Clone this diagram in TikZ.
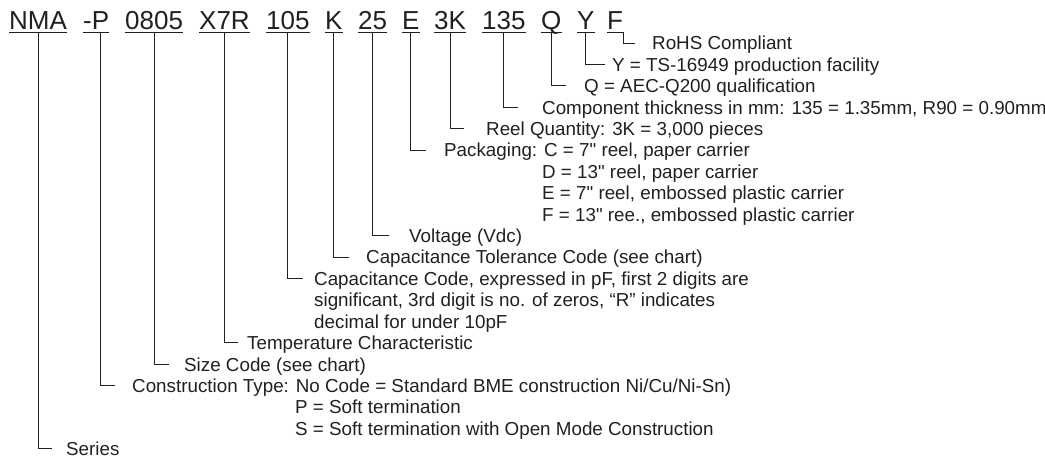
\documentclass[tikz,border=0pt]{standalone}
\usepackage{fontspec}
\setmainfont{Liberation Sans}[Ligatures=TeXOff]
\usepackage{tikz}
\definecolor{ink}{RGB}{35,31,32}
\newcommand{\codesize}{\fontsize{26}{30}\selectfont}
\newcommand{\lblsize}{\fontsize{18.8}{21.4}\selectfont}

\begin{document}
\begin{tikzpicture}[
  x=1pt, y=-1pt,
  code/.style={font=\codesize, text=ink, inner xsep=0pt, inner ysep=2pt, text depth=0pt, anchor=base west},
  lbl/.style={font=\lblsize, text=ink, inner sep=0pt, anchor=base west},
  conn/.style={draw=ink, line width=0.9pt}
]
  \useasboundingbox (0,0) rectangle (1045,457);

  % part number fields
  \node[code] (nma)   at (9,30)   {NMA};
  \node[code] (dashp) at (83,30)  {-P};
  \node[code] (c0805) at (125,30) {0805};
  \node[code] (x7r)   at (199,30) {X7R};
  \node[code] (c105)  at (266,30) {105};
  \node[code] (k)     at (325,30) {K};
  \node[code] (c25)   at (358,30) {25};
  \node[code] (e)     at (402,30) {E};
  \node[code] (c3k)   at (434,30) {3K};
  \node[code] (c135)  at (482,30) {135};
  \node[code] (q)     at (541,30) {Q};
  \node[code] (y)     at (577,30) {Y};
  \node[code] (f)     at (607,30) {F};

  \foreach \n in {nma,dashp,c0805,x7r,c105,k,c25,e,c3k,c135,q,y,f}
    \draw[conn] (\n.south west) -- (\n.south east);

  % descriptions
  \node[lbl] (rohs)    at (652,50)    {RoHS Compliant};
  \node[lbl] (ts)      at (612,71.4)  {Y = TS-16949 production facility};
  \node[lbl] (aec)     at (584,92.8)  {Q = AEC-Q200 qualification};
  \node[lbl] (thick)   at (542,114.2) {Component thickness in mm: 135 = 1.35mm, R90 = 0.90mm};
  \node[lbl] (qty)     at (486,135.6) {Reel Quantity: 3K = 3,000 pieces};
  \node[lbl] (pack)    at (444,157)   {Packaging: C = 7" reel, paper carrier};
  \node[lbl] (packd)   at (542,178.4) {D = 13" reel, paper carrier};
  \node[lbl] (packe)   at (542,199.8) {E = 7" reel, embossed plastic carrier};
  \node[lbl] (packf)   at (542,221.2) {F = 13" ree., embossed plastic carrier};
  \node[lbl] (volt)    at (409,242.6) {Voltage (Vdc)};
  \node[lbl] (tol)     at (366,264)   {Capacitance Tolerance Code (see chart)};
  \node[lbl] (capcode) at (314,285.4) {Capacitance Code, expressed in pF, first 2 digits are};
  \node[lbl] (capsig)  at (314,306.8) {significant, 3rd digit is no. of zeros, “R” indicates};
  \node[lbl] (capdec)  at (314,328.2) {decimal for under 10pF};
  \node[lbl] (temp)    at (247,349.6) {Temperature Characteristic};
  \node[lbl] (size)    at (184,371)   {Size Code (see chart)};
  \node[lbl] (constr)  at (132,392.4) {Construction Type: No Code = Standard BME construction Ni/Cu/Ni-Sn)};
  \node[lbl] (constrp) at (295,413.8) {P = Soft termination};
  \node[lbl] (constrs) at (295,435.2) {S = Soft termination with Open Mode Construction};
  \node[lbl] (series)  at (66,455)    {Series};

  % leaders
  \draw[conn] (f.south east) -- ([yshift=7pt]f.south east |- rohs.base) -- ++(12,0);
  \draw[conn] (y.south) -- ([yshift=7pt]y.south |- ts.base) -- ++(19,0);
  \draw[conn] (q.south) -- ([yshift=7pt]q.south |- aec.base) -- ++(15,0);
  \draw[conn] (c135.south) -- ([yshift=7pt]c135.south |- thick.base) -- ++(14,0);
  \draw[conn] (c3k.south) -- ([yshift=7pt]c3k.south |- qty.base) -- ++(14,0);
  \draw[conn] (e.south) -- ([yshift=7pt]e.south |- pack.base) -- ++(15,0);
  \draw[conn] (c25.south) -- ([yshift=7pt]c25.south |- volt.base) -- ++(16,0);
  \draw[conn] (k.south) -- ([yshift=7pt]k.south |- tol.base) -- ++(15,0);
  \draw[conn] (c105.south) -- ([yshift=7pt]c105.south |- capcode.base) -- ++(15,0);
  \draw[conn] (x7r.south) -- ([yshift=7pt]x7r.south |- temp.base) -- ++(14,0);
  \draw[conn] (c0805.south) -- ([yshift=7pt]c0805.south |- size.base) -- ++(15,0);
  \draw[conn] ([xshift=4pt]dashp.south) -- ([xshift=4pt,yshift=7pt]dashp.south |- constr.base) -- ++(15,0);
  \draw[conn] (nma.south) -- ([yshift=7pt]nma.south |- series.base) -- ++(14,0);
\end{tikzpicture}
\end{document}
